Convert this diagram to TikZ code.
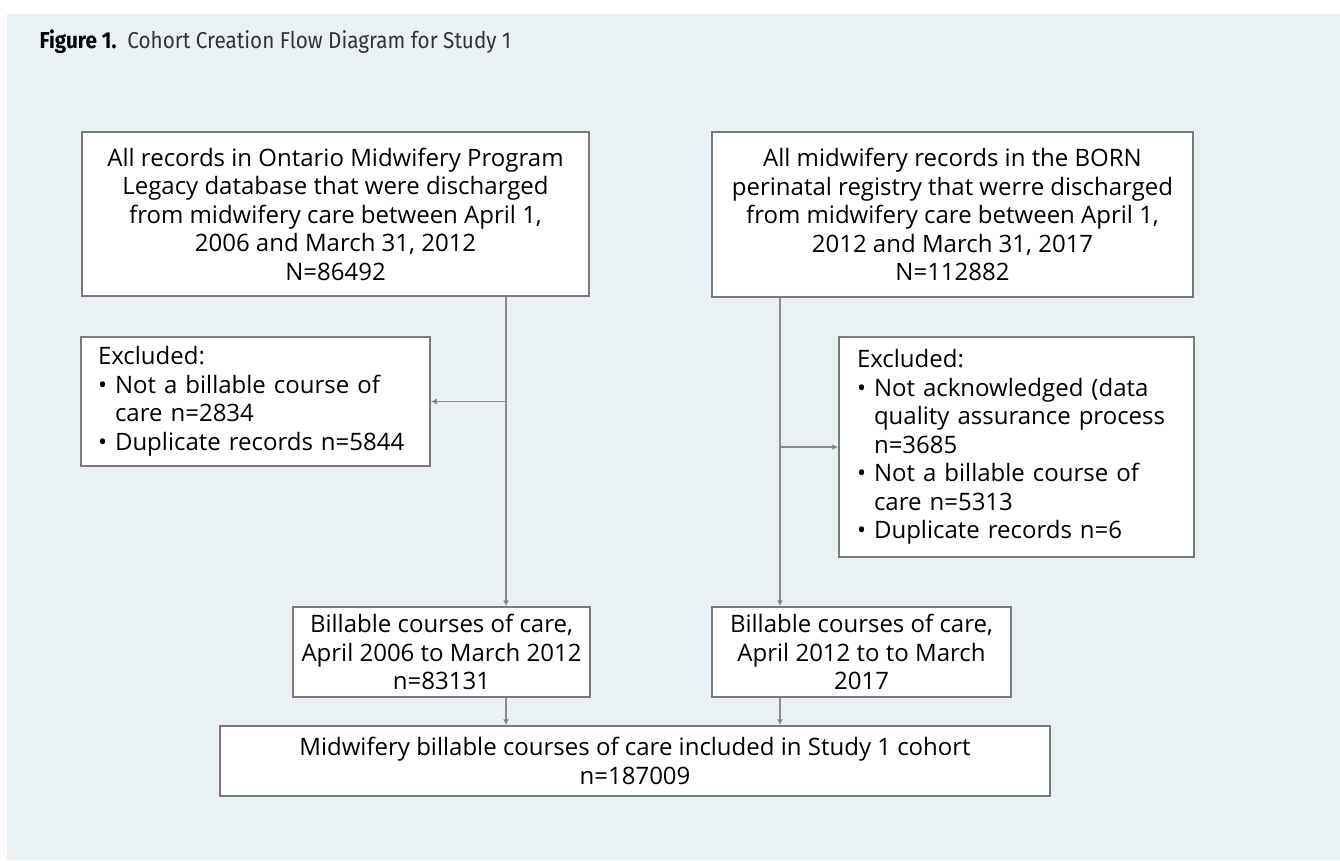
\documentclass[tikz,border=0pt]{standalone}
\usepackage{fontspec}
\setmainfont{Open Sans}
\newfontfamily\titlefont{Fira Sans}[FakeStretch=0.9]
\usetikzlibrary{arrows.meta}
\definecolor{panelbg}{HTML}{E9F1F4}
\definecolor{boxline}{HTML}{7A7A7A}
\definecolor{linkline}{HTML}{8C8C8C}
\definecolor{tipcol}{HTML}{333333}

\begin{document}
\begin{tikzpicture}[x=1pt,y=-1pt,
  box/.style={draw=boxline, line width=1.5pt, fill=white, align=center, inner sep=0pt,
    font=\fontsize{24}{28.5}\selectfont},
  exclbox/.style={box, align=left},
  arr/.style={draw=linkline, line width=1.3pt, -{Latex[length=6pt,width=6pt,fill=tipcol]}}]
% Panel and bounding box
\useasboundingbox (0,0) rectangle (1340,860);
\fill[panelbg] (7,14) rectangle (1340,860);

% Caption
\node[anchor=west, font=\titlefont\fontsize{23}{27}\selectfont, text=black!80] (title) at (36,42)
  {\textbf{\color{black}Figure 1.}\ \ Cohort Creation Flow Diagram for Study 1};

% Source records
\node[box, minimum width=507pt, minimum height=164pt] (srcA) at (335.5,214)
  {All records in Ontario Midwifery Program\\ Legacy database that were discharged\\
   from midwifery care between April 1,\\ 2006 and March 31, 2012\\ N=86492};
\node[box, minimum width=481pt, minimum height=165pt] (srcB) at (952.5,214.5)
  {All midwifery records in the BORN\\ perinatal registry that werre discharged\\
   from midwifery care between April 1,\\ 2012 and March 31, 2017\\ N=112882};

% Exclusions
\node[exclbox, inner xsep=17pt, text width=315pt, minimum height=129pt] (exclA) at (255.5,401.5)
  {Excluded:\\ \textbullet\ Not a billable course of\\ \phantom{\textbullet\ }care n=2834\\
   \textbullet\ Duplicate records~n=5844};
\node[exclbox, inner xsep=18pt, text width=319pt, minimum height=220pt] (exclB) at (1016.5,447)
  {Excluded:\\ \textbullet\ Not acknowledged (data\\ \phantom{\textbullet\ }quality assurance process\\
   \phantom{\textbullet\ }n=3685\\ \textbullet\ Not a billable course of\\ \phantom{\textbullet\ }care n=5313\\
   \textbullet\ Duplicate records n=6};

% Billable courses
\node[box, minimum width=297pt, minimum height=90pt] (billA) at (441.5,652)
  {Billable courses of care,\\ April 2006 to March 2012\\ n=83131};
\node[box, minimum width=299pt, minimum height=90pt] (billB) at (861.5,652)
  {Billable courses of care,\\ April 2012 to to March\\ 2017};

% Cohort
\node[box, minimum width=830pt, minimum height=70pt] (cohort) at (635,761)
  {Midwifery billable courses of care included in Study 1 cohort\\ n=187009};

% Connectors
\coordinate (jL) at (506,0);
\coordinate (jR) at (780,0);
\draw[arr] (srcA.south -| jL) -- (billA.north -| jL);
\draw[arr] (exclA.east -| jL) -- (exclA.east);
\draw[arr] (srcB.south -| jR) -- (billB.north -| jR);
\draw[arr] (exclB.west -| jR) -- (exclB.west);
\draw[arr] (billA.south -| jL) -- (cohort.north -| jL);
\draw[arr] (billB.south -| jR) -- (cohort.north -| jR);
\end{tikzpicture}
\end{document}
